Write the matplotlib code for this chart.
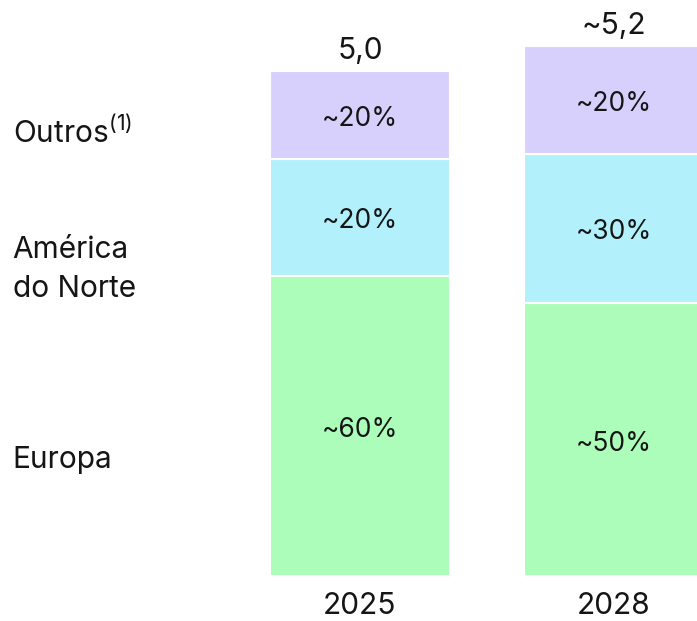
import matplotlib.pyplot as plt

plt.rcParams['font.family'] = ['Inter', 'DejaVu Sans']
plt.rcParams['mathtext.fontset'] = 'custom'
plt.rcParams['mathtext.rm'] = 'Inter'

years = ['2025', '2028']
totals = ['5,0', '~5,2']
europa = [2.98, 2.71]
america = [1.16, 1.48]
outros = [0.87, 1.07]
europa_lbl = ['~60%', '~50%']
america_lbl = ['~20%', '~30%']
outros_lbl = ['~20%', '~20%']

c_eu = '#abfdb9'
c_am = '#b2f1fb'
c_ou = '#d7d0fd'

fig = plt.figure(figsize=(6.97, 6.21), dpi=100)
ax = fig.add_axes([0, 0, 1, 1])
ax.set_xlim(-1.417, 1.327)
ax.set_ylim(-0.446, 5.714)
ax.axis('off')

x = [0, 1]
w = 0.709
base2 = [e + a for e, a in zip(europa, america)]
ax.bar(x, europa, width=w, color=c_eu, edgecolor='white', linewidth=1.5)
ax.bar(x, america, width=w, bottom=europa, color=c_am, edgecolor='white', linewidth=1.5)
ax.bar(x, outros, width=w, bottom=base2, color=c_ou, edgecolor='white', linewidth=1.5)

fs = 21.5
pfs = 19
txt = '#151515'
kw = dict(color=txt, va='baseline')
for i in range(2):
    ax.text(x[i], europa[i] / 2 - 0.11, europa_lbl[i], ha='center', fontsize=pfs, **kw)
    ax.text(x[i], europa[i] + america[i] / 2 - 0.11, america_lbl[i], ha='center', fontsize=pfs, **kw)
    ax.text(x[i], base2[i] + outros[i] / 2 - 0.11, outros_lbl[i], ha='center', fontsize=pfs, **kw)
    top = base2[i] + outros[i]
    ax.text(x[i], top + 0.115, totals[i], ha='center', fontsize=fs, **kw)
    ax.text(x[i], -0.375, years[i], ha='center', fontsize=fs, **kw)

# left side legend labels
ax.text(-1.367, 4.296, r'Outros$^{\mathregular{(1)}}$', ha='left', fontsize=fs, **kw)
ax.text(-1.367, 3.155, 'América', ha='left', fontsize=fs, **kw)
ax.text(-1.367, 2.768, 'do Norte', ha='left', fontsize=fs, **kw)
ax.text(-1.367, 1.071, 'Europa', ha='left', fontsize=fs, **kw)

fig.savefig('out.png', dpi=100)
